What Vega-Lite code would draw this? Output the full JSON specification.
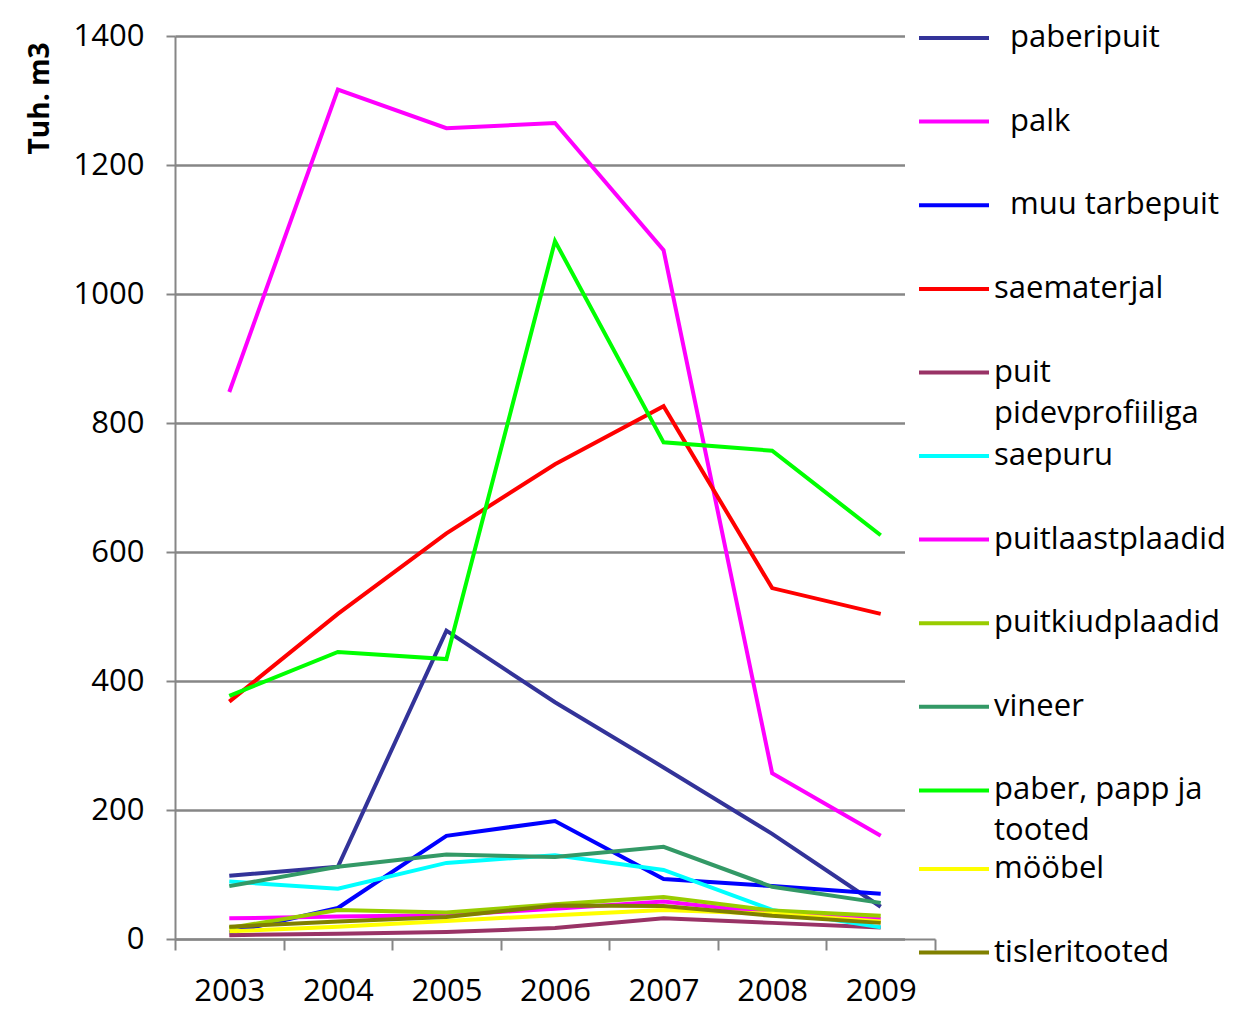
{
  "$schema": "https://vega.github.io/schema/vega-lite/v6.json",
  "width": 760,
  "height": 903,
  "autosize": {"type": "none"},
  "padding": {"left": 175, "top": 36, "right": 316, "bottom": 74},
  "background": "white",
  "config": {
    "view": {"stroke": null},
    "font": "Open Sans",
    "style": {"guide-label": {"lineHeight": 41}},
    "legend": {
      "title": null,
      "orient": "none",
      "padding": 0,
      "fillColor": "white",
      "symbolType": "stroke",
      "symbolSize": 4900,
      "symbolStrokeWidth": 4,
      "symbolOffset": 12,
      "labelFont": "Open Sans",
      "labelFontSize": 31,
      "labelColor": "black",
      "labelOffset": 3,
      "labelLimit": 400,
      "labelBaseline": "middle",
      "rowPadding": 31.6,
      "gridAlign": "each"
    }
  },
  "datasets": {
    "d": [
      {"year": "2003", "series": "paberipuit", "value": 98},
      {"year": "2004", "series": "paberipuit", "value": 112},
      {"year": "2005", "series": "paberipuit", "value": 478},
      {"year": "2006", "series": "paberipuit", "value": 367},
      {"year": "2007", "series": "paberipuit", "value": 266},
      {"year": "2008", "series": "paberipuit", "value": 163},
      {"year": "2009", "series": "paberipuit", "value": 50},
      {"year": "2003", "series": "palk", "value": 848},
      {"year": "2004", "series": "palk", "value": 1317},
      {"year": "2005", "series": "palk", "value": 1257},
      {"year": "2006", "series": "palk", "value": 1265},
      {"year": "2007", "series": "palk", "value": 1068},
      {"year": "2008", "series": "palk", "value": 257},
      {"year": "2009", "series": "palk", "value": 160},
      {"year": "2003", "series": "muu tarbepuit", "value": 10},
      {"year": "2004", "series": "muu tarbepuit", "value": 48},
      {"year": "2005", "series": "muu tarbepuit", "value": 160},
      {"year": "2006", "series": "muu tarbepuit", "value": 183},
      {"year": "2007", "series": "muu tarbepuit", "value": 93},
      {"year": "2008", "series": "muu tarbepuit", "value": 82},
      {"year": "2009", "series": "muu tarbepuit", "value": 70},
      {"year": "2003", "series": "saematerjal", "value": 368},
      {"year": "2004", "series": "saematerjal", "value": 504},
      {"year": "2005", "series": "saematerjal", "value": 629},
      {"year": "2006", "series": "saematerjal", "value": 736},
      {"year": "2007", "series": "saematerjal", "value": 826},
      {"year": "2008", "series": "saematerjal", "value": 544},
      {"year": "2009", "series": "saematerjal", "value": 504},
      {"year": "2003", "series": "puit pidevprofiiliga", "value": 6},
      {"year": "2004", "series": "puit pidevprofiiliga", "value": 8},
      {"year": "2005", "series": "puit pidevprofiiliga", "value": 11},
      {"year": "2006", "series": "puit pidevprofiiliga", "value": 17},
      {"year": "2007", "series": "puit pidevprofiiliga", "value": 32},
      {"year": "2008", "series": "puit pidevprofiiliga", "value": 25},
      {"year": "2009", "series": "puit pidevprofiiliga", "value": 18},
      {"year": "2003", "series": "saepuru", "value": 89},
      {"year": "2004", "series": "saepuru", "value": 78},
      {"year": "2005", "series": "saepuru", "value": 118},
      {"year": "2006", "series": "saepuru", "value": 130},
      {"year": "2007", "series": "saepuru", "value": 107},
      {"year": "2008", "series": "saepuru", "value": 45},
      {"year": "2009", "series": "saepuru", "value": 18},
      {"year": "2003", "series": "puitlaastplaadid", "value": 32},
      {"year": "2004", "series": "puitlaastplaadid", "value": 35},
      {"year": "2005", "series": "puitlaastplaadid", "value": 37},
      {"year": "2006", "series": "puitlaastplaadid", "value": 47},
      {"year": "2007", "series": "puitlaastplaadid", "value": 58},
      {"year": "2008", "series": "puitlaastplaadid", "value": 40},
      {"year": "2009", "series": "puitlaastplaadid", "value": 31},
      {"year": "2003", "series": "puitkiudplaadid", "value": 17},
      {"year": "2004", "series": "puitkiudplaadid", "value": 45},
      {"year": "2005", "series": "puitkiudplaadid", "value": 41},
      {"year": "2006", "series": "puitkiudplaadid", "value": 54},
      {"year": "2007", "series": "puitkiudplaadid", "value": 65},
      {"year": "2008", "series": "puitkiudplaadid", "value": 44},
      {"year": "2009", "series": "puitkiudplaadid", "value": 36},
      {"year": "2003", "series": "vineer", "value": 82},
      {"year": "2004", "series": "vineer", "value": 112},
      {"year": "2005", "series": "vineer", "value": 131},
      {"year": "2006", "series": "vineer", "value": 127},
      {"year": "2007", "series": "vineer", "value": 143},
      {"year": "2008", "series": "vineer", "value": 81},
      {"year": "2009", "series": "vineer", "value": 56},
      {"year": "2003", "series": "paber, papp ja tooted", "value": 377},
      {"year": "2004", "series": "paber, papp ja tooted", "value": 445},
      {"year": "2005", "series": "paber, papp ja tooted", "value": 434},
      {"year": "2006", "series": "paber, papp ja tooted", "value": 1082},
      {"year": "2007", "series": "paber, papp ja tooted", "value": 770},
      {"year": "2008", "series": "paber, papp ja tooted", "value": 757},
      {"year": "2009", "series": "paber, papp ja tooted", "value": 626},
      {"year": "2003", "series": "mööbel", "value": 12},
      {"year": "2004", "series": "mööbel", "value": 19},
      {"year": "2005", "series": "mööbel", "value": 28},
      {"year": "2006", "series": "mööbel", "value": 37},
      {"year": "2007", "series": "mööbel", "value": 45},
      {"year": "2008", "series": "mööbel", "value": 39},
      {"year": "2009", "series": "mööbel", "value": 27},
      {"year": "2003", "series": "tisleritooted", "value": 19},
      {"year": "2004", "series": "tisleritooted", "value": 27},
      {"year": "2005", "series": "tisleritooted", "value": 34},
      {"year": "2006", "series": "tisleritooted", "value": 52},
      {"year": "2007", "series": "tisleritooted", "value": 51},
      {"year": "2008", "series": "tisleritooted", "value": 36},
      {"year": "2009", "series": "tisleritooted", "value": 25}
    ]
  },
  "data": {"name": "d"},
  "encoding": {
    "x": {
      "field": "year",
      "type": "ordinal",
      "scale": {"paddingInner": 0, "paddingOuter": 0},
      "axis": {
        "title": null,
        "labelAngle": 0,
        "labelFont": "Open Sans",
        "labelFontSize": 31,
        "labelColor": "black",
        "labelPadding": 26,
        "tickBand": "extent",
        "tickSize": 11,
        "tickColor": "#868686",
        "tickWidth": 2,
        "domainColor": "#868686",
        "domainWidth": 2,
        "grid": false,
        "zindex": 5
      }
    },
    "y": {
      "field": "value",
      "type": "quantitative",
      "scale": {"domain": [0, 1400], "nice": false},
      "axis": {
        "title": "Tuh. m3",
        "titleFont": "Open Sans",
        "titleFontSize": 28,
        "titleFontWeight": "bold",
        "titleColor": "black",
        "titleAngle": -90,
        "titleAlign": "center",
        "titleBaseline": "middle",
        "titleX": -135,
        "titleY": 62,
        "values": [0, 200, 400, 600, 800, 1000, 1200, 1400],
        "format": "d",
        "labelFont": "Open Sans",
        "labelFontSize": 31,
        "labelColor": "black",
        "labelPadding": 22,
        "tickSize": 9,
        "tickColor": "#868686",
        "tickWidth": 2,
        "domainColor": "#868686",
        "domainWidth": 2,
        "grid": true,
        "gridColor": "#868686",
        "gridWidth": 2.5,
        "zindex": 0
      }
    }
  },
  "layer": [
    {
      "transform": [{"filter": {"field": "series", "oneOf": ["paberipuit", "palk", "muu tarbepuit"]}}],
      "mark": {"type": "line", "strokeWidth": 4, "strokeJoin": "miter", "clip": false},
      "encoding": {
        "color": {
          "field": "series",
          "type": "nominal",
          "scale": {"domain": ["paberipuit", "palk", "muu tarbepuit"], "range": ["#333399", "#FF00FF", "#0000FF"]},
          "legend": {"legendX": 730, "legendY": -35, "labelOffset": 19, "zindex": 4}
        }
      }
    },
    {
      "transform": [{"filter": {"field": "series", "oneOf": ["saematerjal", "puit pidevprofiiliga"]}}],
      "mark": {"type": "line", "strokeWidth": 4, "strokeJoin": "miter", "clip": false},
      "encoding": {
        "color": {
          "field": "series",
          "type": "nominal",
          "scale": {"domain": ["saematerjal", "puit pidevprofiiliga"], "range": ["#FF0000", "#993366"]},
          "legend": {"legendX": 730, "legendY": 216, "zindex": 3, "labelExpr": "datum.label == 'puit pidevprofiiliga' ? ['puit', 'pidevprofiiliga'] : datum.label"}
        }
      }
    },
    {
      "transform": [{"filter": {"field": "series", "oneOf": ["saepuru", "puitlaastplaadid", "puitkiudplaadid", "vineer", "paber, papp ja tooted"]}}],
      "mark": {"type": "line", "strokeWidth": 4, "strokeJoin": "miter", "clip": false},
      "encoding": {
        "color": {
          "field": "series",
          "type": "nominal",
          "scale": {"domain": ["saepuru", "puitlaastplaadid", "puitkiudplaadid", "vineer", "paber, papp ja tooted"], "range": ["#00FFFF", "#FF00FF", "#99CC00", "#339966", "#00FF00"]},
          "legend": {"legendX": 730, "legendY": 383, "zindex": 2, "labelExpr": "datum.label == 'paber, papp ja tooted' ? ['paber, papp ja', 'tooted'] : datum.label"}
        }
      }
    },
    {
      "transform": [{"filter": {"field": "series", "oneOf": ["mööbel", "tisleritooted"]}}],
      "mark": {"type": "line", "strokeWidth": 4, "strokeJoin": "miter", "clip": false},
      "encoding": {
        "color": {
          "field": "series",
          "type": "nominal",
          "scale": {"domain": ["mööbel", "tisleritooted"], "range": ["#FFFF00", "#808000"]},
          "legend": {"legendX": 730, "legendY": 796, "zindex": 1}
        }
      }
    }
  ],
  "resolve": {"scale": {"color": "independent"}, "legend": {"color": "independent"}}
}
